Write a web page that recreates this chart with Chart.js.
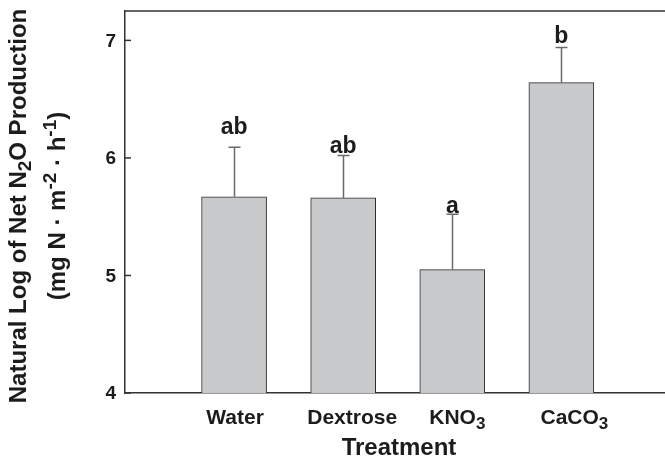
<!DOCTYPE html>
<html>
<head>
<meta charset="utf-8">
<script src="https://cdn.jsdelivr.net/npm/chart.js@4/dist/chart.umd.min.js"></script>
<style>
  html, body { margin: 0; padding: 0; background: #fff; }
  #wrap { width: 665px; height: 463px; }
</style>
</head>
<body>
<div id="wrap"><canvas id="chart" width="665" height="463"></canvas></div>
<script>
// treatments and their values (natural log of net N2O production)
const treatments = ['Water', 'Dextrose', 'KNO', 'CaCO'];
const treatmentSubs = ['', '', '3', '3'];
const means = [5.67, 5.66, 5.05, 6.64];
const errTops = [6.09, 6.02, 5.52, 6.94];
const letters = ['ab', 'ab', 'a', 'b'];
const letterY = [6.20, 6.045, 5.535, 6.98];
const yTicks = [4, 5, 6, 7];

// horizontal nudges of the category labels (px)
const labelShift = [1, 9, 5, 13];

const FONT = '"Liberation Sans", Arial, Helvetica, sans-serif';
const INK = '#1c1c1c';

// text with an optional subscript / superscript run
function drawRich(ctx, parts, x, y, size, align) {
  let total = 0;
  const sz = p => p.s ? Math.round(size * 0.8) : size;
  parts.forEach(p => {
    ctx.font = 'bold ' + sz(p) + 'px ' + FONT;
    p.w = ctx.measureText(p.t).width;
    total += p.w;
  });
  let cx = align === 'center' ? x - total / 2 : x;
  parts.forEach(p => {
    ctx.font = 'bold ' + sz(p) + 'px ' + FONT;
    let dy = 0;
    if (p.s === 'sub') dy = size * 0.22;
    if (p.s === 'sup') dy = -size * 0.38;
    ctx.fillText(p.t, cx, y + dy);
    cx += p.w;
  });
}

const decorPlugin = {
  id: 'decor',
  afterDatasetsDraw(chart) {
    const ctx = chart.ctx;
    const xs = chart.scales.x;
    const ys = chart.scales.y;
    const area = chart.chartArea;
    ctx.save();

    // error bars (upper only)
    ctx.strokeStyle = '#6a6a6a';
    ctx.lineWidth = 1.5;
    means.forEach((m, i) => {
      const px = Math.round(xs.getPixelForValue(i + 1)) + 0.5;
      const y0 = ys.getPixelForValue(m);
      const y1 = ys.getPixelForValue(errTops[i]);
      ctx.beginPath();
      ctx.moveTo(px, y0);
      ctx.lineTo(px, y1);
      ctx.moveTo(px - 6, y1);
      ctx.lineTo(px + 6, y1);
      ctx.stroke();
    });

    // significance letters
    ctx.fillStyle = INK;
    ctx.textAlign = 'center';
    ctx.textBaseline = 'alphabetic';
    ctx.font = 'bold 23px ' + FONT;
    letters.forEach((l, i) => {
      ctx.fillText(l, xs.getPixelForValue(i + 1), ys.getPixelForValue(letterY[i]));
    });

    // top frame line
    ctx.strokeStyle = '#333';
    ctx.lineWidth = 1.5;
    ctx.beginPath();
    ctx.moveTo(area.left, area.top);
    ctx.lineTo(area.right, area.top);
    ctx.stroke();

    // inward tick marks and y labels
    ctx.textAlign = 'right';
    ctx.textBaseline = 'middle';
    ctx.font = 'bold 19px ' + FONT;
    yTicks.forEach(v => {
      const py = ys.getPixelForValue(v);
      ctx.beginPath();
      ctx.moveTo(area.left, py);
      ctx.lineTo(area.left + 6, py);
      ctx.stroke();
      ctx.fillText(String(v), area.left - 9, py + 1);
    });

    // category labels
    ctx.textAlign = 'left';
    ctx.textBaseline = 'alphabetic';
    treatments.forEach((t, i) => {
      const parts = [{ t: t }];
      if (treatmentSubs[i]) parts.push({ t: treatmentSubs[i], s: 'sub' });
      drawRich(ctx, parts, xs.getPixelForValue(i + 1) + labelShift[i], area.bottom + 31, 21, 'center');
    });

    // x title
    ctx.textAlign = 'center';
    ctx.font = 'bold 24px ' + FONT;
    ctx.fillText('Treatment', 399, 455);

    // y title, two rotated lines
    ctx.translate(0, 206);
    ctx.rotate(-Math.PI / 2);
    ctx.textAlign = 'left';
    drawRich(ctx, [
      { t: 'Natural Log of Net N' }, { t: '2', s: 'sub' }, { t: 'O Production' }
    ], 0, 26, 24, 'center');
    drawRich(ctx, [
      { t: '(mg N \u00b7 m' }, { t: '-2', s: 'sup' }, { t: ' \u00b7 h' }, { t: '-1', s: 'sup' }, { t: ')' }
    ], 0, 65, 24, 'center');

    ctx.restore();
  }
};

new Chart(document.getElementById('chart'), {
  type: 'bar',
  data: {
    datasets: [{
      data: means.map((m, i) => ({ x: i + 1, y: m })),
      base: 4,
      backgroundColor: '#c8c9cb',
      borderColor: '#2b2b2b',
      borderWidth: 1,
      borderSkipped: 'start',
      barThickness: 65
    }]
  },
  options: {
    responsive: false,
    animation: false,
    events: [],
    layout: { padding: { left: 125, top: 11, right: 0, bottom: 70 } },
    plugins: {
      legend: { display: false },
      tooltip: { enabled: false }
    },
    scales: {
      x: {
        type: 'linear',
        offset: false,
        min: 0,
        max: 4.95,
        ticks: { display: false },
        grid: { display: false, drawTicks: false },
        border: { display: true, color: '#333', width: 1.5 }
      },
      y: {
        min: 4,
        max: 7.25,
        ticks: { display: false },
        grid: { display: false, drawTicks: false },
        border: { display: true, color: '#333', width: 1.5 }
      }
    }
  },
  plugins: [decorPlugin]
});
</script>
</body>
</html>
